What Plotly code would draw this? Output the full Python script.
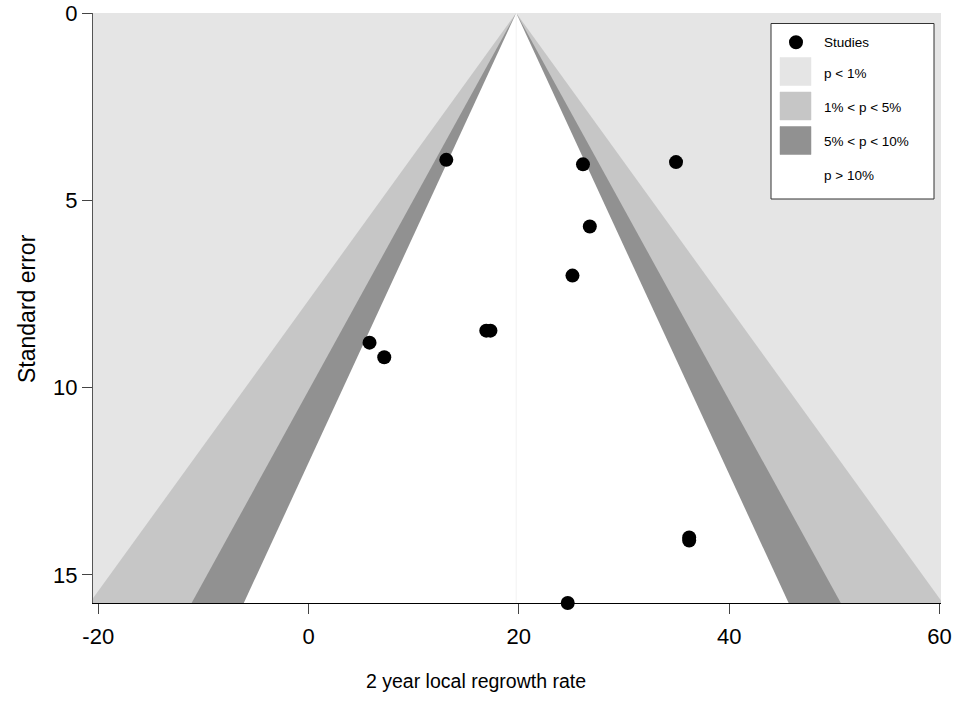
import plotly.graph_objects as go

# ---- data ----
effect = [13.1, 26.1, 34.95, 26.75, 25.1, 16.9, 17.3, 5.8, 7.2, 36.2, 36.2, 24.65]
std_err = [3.92, 4.04, 3.98, 5.70, 7.01, 8.48, 8.48, 8.80, 9.19, 14.00, 14.08, 15.75]
estimate = 19.75
contour_z = [2.576, 1.960, 1.645]          # 1%, 5%, 10% two-sided
contour_colors = ["#C6C6C6", "#919191", "#FFFFFF"]
back_color = "#E5E5E5"
legend_labels = ["Studies", "p < 1%", "1% < p < 5%", "5% < p < 10%", "p > 10%"]
legend_colors = [back_color, "#C6C6C6", "#919191", "#FFFFFF"]
x_ticks = [-20, 0, 20, 40, 60]
y_ticks = [0, 5, 10, 15]

se_max = max(std_err)
FONT = "Liberation Sans, Arial, sans-serif"

fig = go.Figure()

# contour regions (funnels)
for z, col in zip(contour_z, contour_colors):
    fig.add_trace(go.Scatter(
        x=[estimate - z * se_max * 1.02, estimate, estimate + z * se_max * 1.02],
        y=[se_max * 1.02, 0, se_max * 1.02],
        mode="lines", fill="toself", fillcolor=col,
        line=dict(width=0, color=col), hoverinfo="skip", showlegend=False))

# faint reference line
fig.add_trace(go.Scatter(x=[estimate, estimate], y=[0, se_max * 1.02], mode="lines",
                         line=dict(color="#F2F2F2", width=1), hoverinfo="skip",
                         showlegend=False))

# studies
fig.add_trace(go.Scatter(x=effect, y=std_err, mode="markers",
                         marker=dict(size=14, color="black"),
                         cliponaxis=False, showlegend=False))

# ---- layout geometry (pixels) ----
L, R, T, B = 93, 13, 13, 123
W, H = 954, 726
pw, ph = W - L - R, H - T - B


def px(x):
    return (x - L) / pw


def py(y):
    return 1 - (y - T) / ph


shapes = []
annotations = []
# legend box
shapes.append(dict(type="rect", xref="paper", yref="paper",
                   x0=px(771), x1=px(934), y0=py(199), y1=py(23.5),
                   line=dict(color="#333333", width=1), fillcolor="white", layer="above"))
# legend dot
shapes.append(dict(type="circle", xref="paper", yref="paper",
                   x0=px(796 - 7), x1=px(796 + 7), y0=py(42.3 + 7), y1=py(42.3 - 7),
                   line=dict(color="black", width=0), fillcolor="black", layer="above"))
text_y = [42.3, 73.3, 107.3, 141.7, 176]
box_top = [57.5, 92, 126.5, 161]
for i, col in enumerate(legend_colors):
    shapes.append(dict(type="rect", xref="paper", yref="paper",
                       x0=px(780), x1=px(811), y0=py(box_top[i] + 28), y1=py(box_top[i]),
                       line=dict(color=col, width=0.5), fillcolor=col, layer="above"))
for lab, ty in zip(legend_labels, text_y):
    annotations.append(dict(text=lab, xref="paper", yref="paper", x=px(822), y=py(ty),
                            xanchor="left", yanchor="middle", showarrow=False,
                            font=dict(size=13.5, color="black", family=FONT)))

# axis titles
annotations.append(dict(text="2 year local regrowth rate", xref="paper", yref="paper",
                        x=px(476), y=py(681), xanchor="center", yanchor="middle",
                        showarrow=False, font=dict(size=19.5, color="black", family=FONT)))
annotations.append(dict(text="Standard error", xref="paper", yref="paper",
                        x=px(27), y=py(309), xanchor="center", yanchor="middle",
                        textangle=-90, showarrow=False,
                        font=dict(size=23, color="black", family=FONT)))

fig.update_layout(
    width=W, height=H,
    margin=dict(l=L, r=R, t=T, b=B, autoexpand=False),
    paper_bgcolor="white", plot_bgcolor=back_color,
    font=dict(family=FONT, size=21, color="black"),
    shapes=shapes, annotations=annotations, showlegend=False,
    xaxis=dict(range=[-20.5, 60.15], tickvals=x_ticks, ticktext=[str(v) for v in x_ticks],
               showgrid=False, zeroline=False, showline=True, linecolor="black",
               linewidth=1.2, ticks="outside", ticklen=10, tickcolor="#444444",
               ticklabelstandoff=3,
               tickfont=dict(size=22, family=FONT)),
    yaxis=dict(range=[se_max * 1.0, 0], tickvals=y_ticks, ticktext=[str(v) for v in y_ticks],
               showgrid=False, zeroline=False, showline=True, linecolor="#555555",
               linewidth=1, ticks="outside", ticklen=10, tickcolor="#444444",
               tickfont=dict(size=22, family=FONT)),
)

fig.write_html("out.html")
